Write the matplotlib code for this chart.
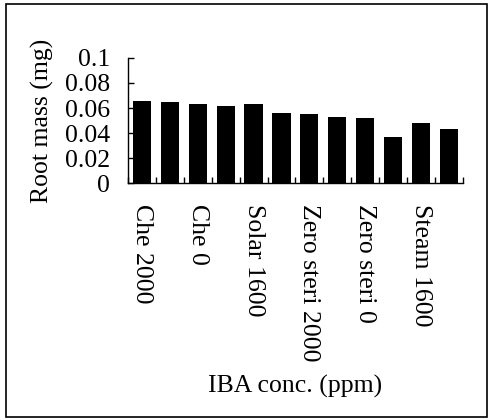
import matplotlib
matplotlib.use("Agg")
import matplotlib.pyplot as plt
from matplotlib.patches import Rectangle

# Data
treatments = ['Che 2000', 'Che 1600', 'Che 0', 'Solar 2000', 'Solar 1600', 'Solar 0',
              'Zero steri 2000', 'Zero steri 1600', 'Zero steri 0',
              'Steam 2000', 'Steam 1600', 'Steam 0']
root_mass = [0.066, 0.065, 0.063, 0.062, 0.063, 0.056,
             0.055, 0.053, 0.052, 0.037, 0.048, 0.043]
y_ticks = [0, 0.02, 0.04, 0.06, 0.08, 0.1]
y_tick_labels = ['0', '0.02', '0.04', '0.06', '0.08', '0.1']

plt.rcParams['font.family'] = ['Liberation Serif', 'DejaVu Serif']
fs = 18.5

fig = plt.figure(figsize=(4.92, 4.2), dpi=100)
ax = fig.add_axes([0.26, 0.564, 0.681, 0.298])

x = list(range(len(treatments)))
ax.bar(x, root_mass, width=0.65, color='black')

ax.set_xlim(-0.5, len(treatments) - 0.5)
ax.set_ylim(0, 0.1)
ax.set_yticks(y_ticks)
ax.set_yticklabels(y_tick_labels, fontsize=fs)
ax.tick_params(axis='y', direction='in', length=4, width=1, pad=13)

# labels on every other bar, tick marks between bars
ax.set_xticks(x[::2])
ax.set_xticklabels(treatments[::2], rotation=270, fontsize=fs)
ax.tick_params(axis='x', which='major', length=0, pad=15)
ax.set_xticks([i - 0.5 for i in range(len(treatments) + 1)], minor=True)
ax.tick_params(axis='x', which='minor', direction='in', length=4, width=1)

ax.spines['top'].set_visible(False)
ax.spines['right'].set_visible(False)
ax.spines['left'].set_linewidth(1)
ax.spines['bottom'].set_linewidth(1)

ax.set_ylabel('Root mass (mg)', fontsize=fs, labelpad=8)
ax.set_xlabel('IBA conc. (ppm)', fontsize=fs, labelpad=10)

# frame around the whole figure
fig.patches.append(Rectangle((0.012, 0.007), 0.978, 0.983, transform=fig.transFigure,
                             fill=False, edgecolor='black', linewidth=1.2))

plt.savefig("out.png", dpi=100)
